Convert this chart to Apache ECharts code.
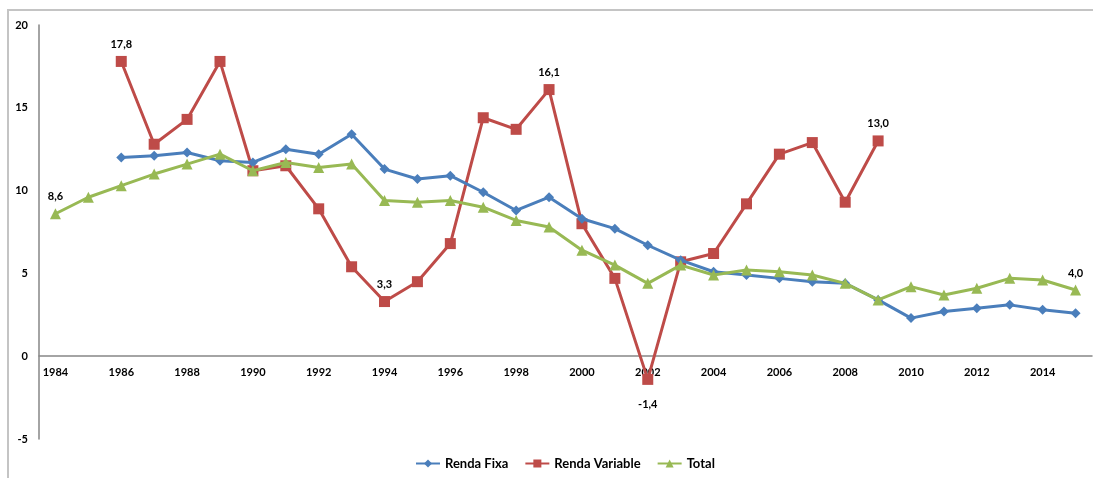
<!DOCTYPE html>
<html>
<head>
<meta charset="utf-8">
<script src="https://cdn.jsdelivr.net/npm/echarts@6/dist/echarts.min.js"></script>
<style>
  html, body { margin: 0; padding: 0; background: #fff; }
  #chart { width: 1093px; height: 478px; }
</style>
</head>
<body>
<div id="chart"></div>
<script>
const years = []
for (let y = 1984; y <= 2015; y++) years.push(String(y))

const rendaFixa = [null, null, 12.0, 12.1, 12.3, 11.8, 11.7, 12.5, 12.2, 13.4,
  11.3, 10.7, 10.9, 9.9, 8.8, 9.6, 8.3, 7.7, 6.7, 5.8,
  5.1, 4.9, 4.7, 4.5, 4.4, 3.4, 2.3, 2.7, 2.9, 3.1, 2.8, 2.6]

const rendaVariable = [null, null, 17.8, 12.8, 14.3, 17.8, 11.2, 11.5, 8.9, 5.4,
  3.3, 4.5, 6.8, 14.4, 13.7, 16.1, 8.0, 4.7, -1.4, 5.7,
  6.2, 9.2, 12.2, 12.9, 9.3, 13.0, null, null, null, null, null, null]

const total = [8.6, 9.6, 10.3, 11.0, 11.6, 12.2, 11.2, 11.7, 11.4, 11.6,
  9.4, 9.3, 9.4, 9.0, 8.2, 7.8, 6.4, 5.5, 4.4, 5.5,
  4.9, 5.2, 5.1, 4.9, 4.4, 3.4, 4.2, 3.7, 4.1, 4.7, 4.6, 4.0]

// years whose values get a data label
const labelVariable = ['1986', '1994', '1999', '2002', '2009']
const labelTotal = ['1984', '2015']

const fmt = p => p.value.toFixed(1).replace('.', ',')
const font = 'Lato, "Open Sans", sans-serif'

function withLabels(values, labelled) {
  return values.map((v, i) => {
    if (v == null || labelled.indexOf(years[i]) < 0) return v
    return {
      value: v,
      label: {
        show: true,
        position: v < 0 ? 'bottom' : 'top',
        distance: v < 0 ? 14 : 6,
        formatter: fmt,
        color: '#000',
        fontWeight: 'bold',
        fontSize: 11,
        fontFamily: font,
      },
    }
  })
}

const option = {
  backgroundColor: '#fff',
  animation: false,
  graphic: [{
    type: 'rect',
    shape: { x: 8, y: 10, width: 1200, height: 600 },
    style: { fill: 'none', stroke: '#c4c4c4', lineWidth: 2 },
    silent: true,
    z: -1,
  }],
  legend: {
    bottom: 3,
    left: 410,
    itemWidth: 24,
    itemHeight: 10,
    itemGap: 16,
    textStyle: { fontWeight: 'bold', fontSize: 13, fontFamily: font, color: '#000' },
    data: ['Renda Fixa', 'Renda Variable', 'Total'],
  },
  grid: {
    left: 39,
    right: 1,
    top: 25,
    bottom: 39,
  },
  xAxis: {
    type: 'category',
    data: years,
    boundaryGap: true,
    axisLine: { onZero: true, lineStyle: { color: '#868686', width: 1.5 } },
    axisTick: { show: false },
    axisLabel: {
      interval: 1,
      margin: -72,
      color: '#000',
      fontWeight: 'bold',
      fontSize: 11,
      fontFamily: font,
    },
  },
  yAxis: {
    type: 'value',
    min: -5,
    max: 20,
    interval: 5,
    axisLine: { show: true, lineStyle: { color: '#868686', width: 1.5 } },
    axisTick: { show: false },
    splitLine: { show: false },
    axisLabel: {
      margin: 11,
      color: '#000',
      fontWeight: 'bold',
      fontSize: 11,
      fontFamily: font,
    },
  },
  series: [
    {
      name: 'Renda Fixa',
      type: 'line',
      data: rendaFixa,
      symbol: 'diamond',
      symbolSize: 10,
      color: '#4A7EBB',
      lineStyle: { width: 3 },
      z: 3,
    },
    {
      name: 'Renda Variable',
      type: 'line',
      data: withLabels(rendaVariable, labelVariable),
      symbol: 'rect',
      symbolSize: 11,
      color: '#BE4B48',
      lineStyle: { width: 3 },
      z: 2,
    },
    {
      name: 'Total',
      type: 'line',
      data: withLabels(total, labelTotal),
      symbol: 'triangle',
      symbolSize: 11,
      color: '#98B954',
      lineStyle: { width: 3 },
      z: 4,
    },
  ],
}

const myChart = echarts.init(document.getElementById('chart'))
myChart.setOption(option)
</script>
</body>
</html>
